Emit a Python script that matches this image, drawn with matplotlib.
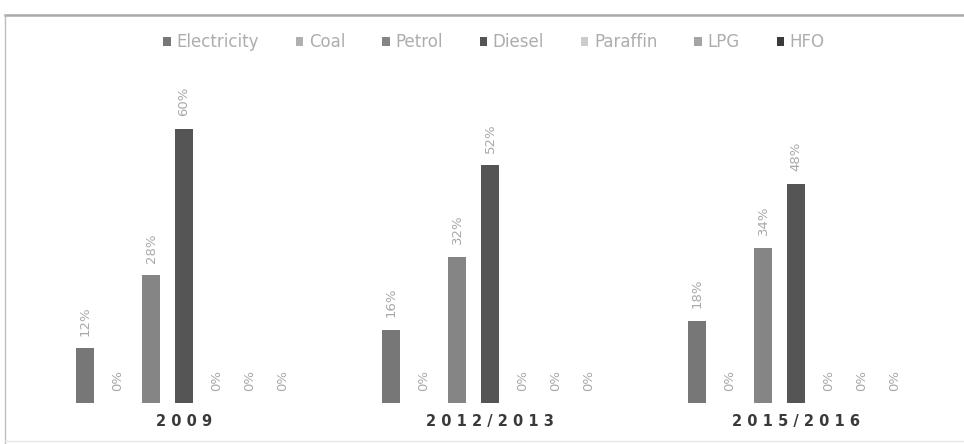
import matplotlib
matplotlib.use("Agg")
import matplotlib.pyplot as plt
from matplotlib.patches import Patch
from matplotlib.lines import Line2D
import numpy as np

categories = ["2009", "2012/2013", "2015/2016"]
fuels = ["Electricity", "Coal", "Petrol", "Diesel", "Paraffin", "LPG", "HFO"]
values = {
    "Electricity": [12, 16, 18],
    "Coal": [0, 0, 0],
    "Petrol": [28, 32, 34],
    "Diesel": [60, 52, 48],
    "Paraffin": [0, 0, 0],
    "LPG": [0, 0, 0],
    "HFO": [0, 0, 0],
}
colors = {
    "Electricity": "#777777",
    "Coal": "#b0b0b0",
    "Petrol": "#858585",
    "Diesel": "#555555",
    "Paraffin": "#cccccc",
    "LPG": "#a5a5a5",
    "HFO": "#3a3a3a",
}

W, H = 964, 444
fig = plt.figure(figsize=(W / 100, H / 100), dpi=100)
fig.patch.set_facecolor("white")

# axes: left at 5px, baseline at 403px, top at 15px
left_px, right_px, base_px, top_px = 5, 964, 403, 15
ax = fig.add_axes([left_px / W, (H - base_px) / H, (right_px - left_px) / W, (base_px - top_px) / H])

grp_px = 306.0
center0_px = 184.0
step = 33.0 / grp_px
bw = 18.0 / grp_px
ppp = 4.57  # pixels per percent

x = np.arange(len(categories))
for i, f in enumerate(fuels):
    xs = x + (i - 3) * step
    bars = ax.bar(xs, values[f], width=bw, color=colors[f], edgecolor="none", label=f)
    ax.bar_label(bars, labels=[f"{v}%" for v in values[f]], rotation=90, padding=9,
                 fontsize=9.5, color="#a8a8a8")

ax.set_xlim((left_px - center0_px) / grp_px, (right_px - center0_px) / grp_px)
ax.set_ylim(0, (base_px - top_px) / ppp)
for s in ["left", "right", "bottom"]:
    ax.spines[s].set_visible(False)
ax.spines["top"].set_color("#a8a8a8")
ax.spines["top"].set_linewidth(1.8)
ax.set_yticks([])
ax.set_xticks(x)
ax.set_xticklabels([" ".join(c) for c in categories], fontsize=10.5, fontweight="bold", color="#3a3a3a")
ax.tick_params(axis="x", length=0, pad=8)

# frame lines
fig.add_artist(Line2D([left_px / W, left_px / W], [0, (H - top_px) / H], color="#bdbdbd", lw=1.0,
                      transform=fig.transFigure))
fig.add_artist(Line2D([left_px / W, 1], [(H - 441) / H, (H - 441) / H], color="#e6e6e6", lw=1.0,
                      transform=fig.transFigure))

handles = [Patch(facecolor=colors[f], edgecolor="none") for f in fuels]
leg = fig.legend(handles, fuels, loc="center", bbox_to_anchor=(494 / W, (H - 42) / H), ncol=7,
                 frameon=False, handlelength=0.45, handleheight=0.45, handletextpad=0.35,
                 columnspacing=2.2, fontsize=12)
for t in leg.get_texts():
    t.set_color("#adadad")

fig.savefig("out.png", dpi=100, facecolor="white")
